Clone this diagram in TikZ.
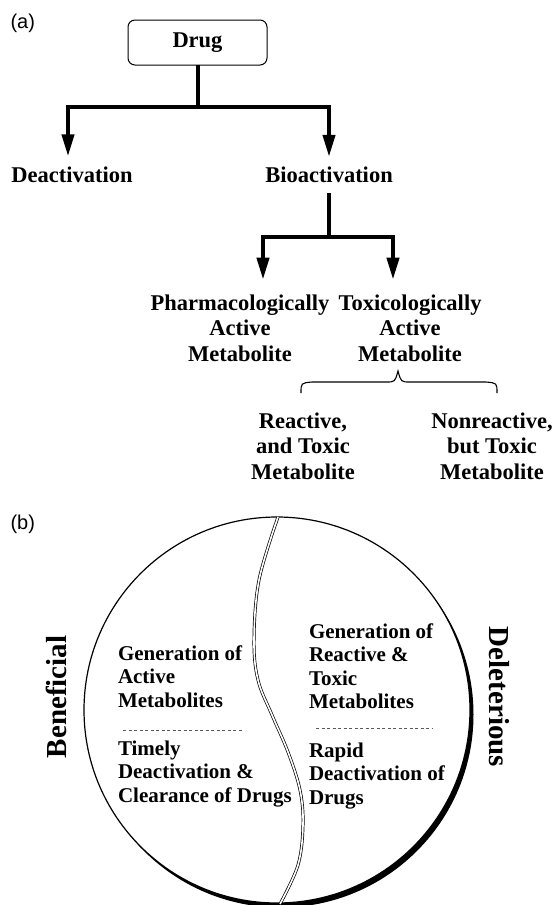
\documentclass[tikz,border=0pt]{standalone}
\usepackage{fontspec}
\setmainfont{Liberation Serif}
\newfontfamily\labelfont{Liberation Sans}
\usetikzlibrary{arrows.meta,calc}

\begin{document}
\begin{tikzpicture}[x=1pt,y=-1pt,
  every node/.style={inner sep=0pt,outer sep=0pt},
  tx/.style={font=\fontsize{22.5}{25.5}\selectfont\bfseries,align=center,anchor=base},
  circtx/.style={font=\fontsize{21}{23.5}\selectfont\bfseries,align=left,anchor=base west},
  side/.style={font=\fontsize{29}{32}\selectfont\bfseries},
  panel/.style={font=\labelfont\fontsize{20}{24}\selectfont,anchor=base west},
  stem/.style={line width=4pt},
  flow/.style={line width=4pt,-{Triangle[length=22pt,width=12pt]}},
  sep/.style={line width=0.9pt,dash pattern=on 3pt off 2.5pt,black!65},
  bracket/.style={line width=1.1pt},
]
\useasboundingbox (0,0) rectangle (553,905);

% ---------- (a) metabolic pathways ----------
\node[panel] (la) at (10.5,28) {(a)};

\node[draw,line width=1pt,rounded corners=7pt,minimum width=139pt,minimum height=45pt,
      font=\fontsize{22.5}{25.5}\selectfont\bfseries] (drug) at (197.5,42.5) {Drug};

\node[tx] (deact)  at (72,182)  {Deactivation};
\node[tx] (bioact) at (329,182) {Bioactivation};

\coordinate (split1) at (197.5,107);
\draw[stem] (drug.south) -- (split1);
\draw[flow] (split1) -| ([xshift=-4pt,yshift=10pt]deact.north);
\draw[flow] (split1) -| ([yshift=9.5pt]bioact.north);

% multi-line nodes: the base anchor sits on the last line
\node[tx] (pharm) at (240,361) {Pharmacologically\\Active\\Metabolite};
\node[tx] (toxic) at (410,361) {Toxicologically\\Active\\Metabolite};

\coordinate (split2) at (329,237);
\draw[stem] ([yshift=-11pt]bioact.south) -- (split2);
\draw[flow] (split2) -| ([xshift=23pt,yshift=14.7pt]pharm.north);
\draw[flow] (split2) -| ([xshift=-17pt,yshift=14.7pt]toxic.north);

% brace below the toxic metabolite
\coordinate (brL)   at (301,393);
\coordinate (brTip) at (398,371);
\coordinate (brR)   at (497,393);
\draw[bracket] (brL) .. controls (301,383) .. (312,382) -- (386,382)
  .. controls (395,382) .. (brTip) .. controls (401,382) .. (410,382) -- (486,382)
  .. controls (497,383) .. (brR);

\node[tx] (reactive)    at (303,479) {Reactive,\\and Toxic\\Metabolite};
\node[tx] (nonreactive) at (492,479) {Nonreactive,\\but Toxic\\Metabolite};

% ---------- (b) beneficial vs deleterious ----------
\node[panel] (lb) at (10.5,529) {(b)};

\coordinate (cc) at (277,710);
\fill ([shift={(3.5,4.5)}]cc) circle[radius=193];
\draw[line width=1.2pt,fill=white] (cc) circle[radius=193];

\draw[double,line width=0.7pt,double distance=1.6pt]
  plot[smooth,tension=0.6] coordinates {(278,517) (259,580) (254,640) (258,680) (272,715)
    (288,752) (300,790) (303,825) (298,865) (280,904)};

\node[side,rotate=90]  (benef) at (56,697)  {Beneficial};
\node[side,rotate=-90] (delet) at (499,697) {Deleterious};

\node[circtx] (actgen) at (118,707) {Generation of\\Active\\Metabolites};
\draw[sep] (123,730) -- (242,730);
\node[circtx] (timely) at (118,802) {Timely\\Deactivation \&\\Clearance of Drugs};

\node[circtx] (toxgen) at (309,708.5) {Generation of\\Reactive \&\\Toxic\\Metabolites};
\draw[sep] (316,728) -- (432,728);
\node[circtx] (rapid) at (309,804) {Rapid\\Deactivation of\\Drugs};

\end{tikzpicture}
\end{document}
